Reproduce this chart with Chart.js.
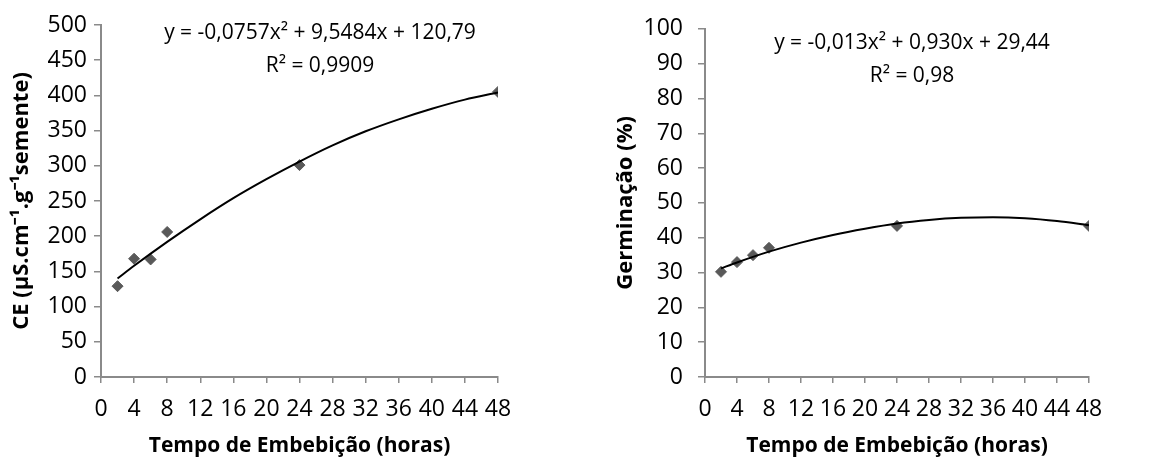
<!DOCTYPE html>
<html lang="pt">
<head>
    <meta charset="UTF-8">
    <title>Condutividade elétrica e germinação</title>
    <script src="https://cdn.jsdelivr.net/npm/chart.js"></script>
    <style>
        body { margin: 0; background: #fff; }
        .box { position: absolute; top: 0; width: 581px; height: 462px; }
    </style>
</head>
<body>
    <div class="box" style="left:0"><canvas id="ceChart" width="581" height="462"></canvas></div>
    <div class="box" style="left:581px"><canvas id="germChart" width="581" height="462"></canvas></div>

    <script>
        // Dados
        const hours = [2, 4, 6, 8, 24, 48];
        const ceValues = [129, 168, 167, 206, 301, 405];
        const germValues = [30.2, 33.0, 35.0, 37.1, 43.4, 43.4];

        // Linha de tendência
        const trendHours = [2, 4, 8, 12, 16, 20, 24, 28, 32, 36, 40, 44, 48];
        const ceTrend = [140, 158, 192, 224, 254, 281, 306, 329, 349, 366, 381, 394, 404];
        const germTrend = [31.2, 32.9, 36.0, 38.6, 40.8, 42.6, 44.1, 45.1, 45.7, 45.9, 45.6, 44.8, 43.6];

        const xTicks = [0, 4, 8, 12, 16, 20, 24, 28, 32, 36, 40, 44, 48];

        const ceEquation = ['y = -0,0757x² + 9,5484x + 120,79', 'R² = 0,9909'];
        const germEquation = ['y = -0,013x² + 0,930x + 29,44', 'R² = 0,98'];

        const FONT = 'Open Sans';
        const axisGray = '#8a8a8a';

        // Texto da equação
        const equationPlugin = {
            id: 'equation',
            afterDraw(chart, args, opts) {
                const ctx = chart.ctx;
                ctx.save();
                ctx.fillStyle = '#000';
                ctx.font = '21px "' + FONT + '"';
                ctx.textAlign = 'center';
                ctx.textBaseline = 'middle';
                opts.lines.forEach((t, i) => ctx.fillText(t, opts.x, opts.y + i * 33));
                ctx.restore();
            }
        };

        function makeChart(id, values, trend, yMax, yStep, yTitle, eq, pad, yAxisWidth, yTickPad, titlePad, eqPos) {
            const pts = hours.map((h, i) => ({ x: h, y: values[i] }));
            const line = trendHours.map((h, i) => ({ x: h, y: trend[i] }));
            return new Chart(document.getElementById(id), {
                type: 'scatter',
                data: {
                    datasets: [
                        {
                            data: line,
                            showLine: true,
                            borderColor: '#000',
                            borderWidth: 2,
                            pointRadius: 0,
                            cubicInterpolationMode: 'monotone',
                            fill: false
                        },
                        {
                            data: pts,
                            pointStyle: 'rectRot',
                            pointRadius: 5.5,
                            backgroundColor: '#595959',
                            borderColor: '#595959',
                            borderWidth: 1
                        }
                    ]
                },
                options: {
                    responsive: false,
                    animation: false,
                    layout: { padding: pad },
                    plugins: {
                        legend: { display: false },
                        tooltip: { enabled: false },
                        equation: { lines: eq, x: eqPos.x, y: eqPos.y }
                    },
                    scales: {
                        x: {
                            type: 'linear',
                            min: 0,
                            max: 48,
                            afterBuildTicks: s => { s.ticks = xTicks.map(v => ({ value: v })); },
                            afterFit: s => { s.height = 85; },
                            grid: { drawOnChartArea: false, drawTicks: true, tickLength: 6, color: axisGray, lineWidth: 1.5 },
                            border: { display: true, color: axisGray, width: 2 },
                            ticks: { color: '#000', font: { family: FONT, size: 23 }, padding: 13, maxRotation: 0, autoSkip: false },
                            title: {
                                display: true,
                                text: 'Tempo de Embebição (horas)',
                                color: '#000',
                                font: { family: FONT, size: 21, weight: 'bold' },
                                padding: { top: 0, bottom: 3 }
                            }
                        },
                        y: {
                            min: 0,
                            max: yMax,
                            ticks: { stepSize: yStep, color: '#000', font: { family: FONT, size: 23 }, padding: yTickPad },
                            afterFit: s => { s.width = yAxisWidth; },
                            grid: { drawOnChartArea: false, drawTicks: true, tickLength: 7, color: axisGray, lineWidth: 1.5 },
                            border: { display: true, color: axisGray, width: 2 },
                            title: {
                                display: true,
                                text: yTitle,
                                color: '#000',
                                font: { family: FONT, size: 22, weight: 'bold' },
                                padding: { top: titlePad, bottom: 0 }
                            }
                        }
                    }
                },
                plugins: [equationPlugin]
            });
        }

        makeChart('ceChart', ceValues, ceTrend, 500, 50, 'CE (µS.cm⁻¹.g⁻¹semente)', ceEquation,
            { left: 0, right: 83, top: 25, bottom: 0 }, 101, 7, 9, { x: 320, y: 33 });

        makeChart('germChart', germValues, germTrend, 100, 10, 'Germinação (%)', germEquation,
            { left: 0, right: 73, top: 24, bottom: 0 }, 124, 15, 32, { x: 331, y: 43 });
    </script>
</body>
</html>
